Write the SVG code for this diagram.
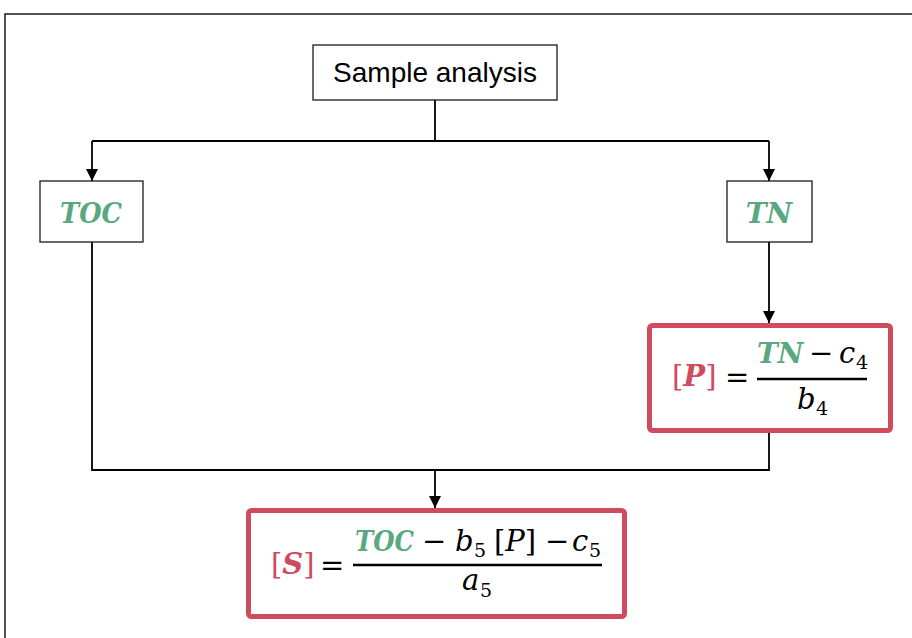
<svg xmlns="http://www.w3.org/2000/svg" width="912" height="638" viewBox="0 0 912 638">
  <style>
    .box { fill: #ffffff; stroke: #1a1a1a; stroke-width: 1.3; }
    .eqbox { fill: #ffffff; stroke: #cf4b5e; stroke-width: 5; }
    .wire { fill: none; stroke: #000000; stroke-width: 1.8; }
    .label { font-family: "Liberation Sans", Arial, sans-serif; font-size: 28px; fill: #000000; }
    .m { font-family: "DejaVu Serif", "Liberation Serif", serif; font-size: 29px; fill: #000000; }
    .mi { font-style: italic; }
    .sub { font-family: "DejaVu Serif", "Liberation Serif", serif; font-size: 19px; fill: #000000; }
    .var { font-family: "DejaVu Serif", "Liberation Serif", serif; font-size: 28px; font-style: italic; font-weight: bold; fill: #5aa87f; }
    .red { fill: #cf4b5e; }
    .bar { stroke: #000000; stroke-width: 2.5; }
  </style>
  <defs>
    <marker id="arrow" viewBox="0 0 12 12" refX="12" refY="6" markerWidth="12" markerHeight="12" markerUnits="userSpaceOnUse" orient="auto">
      <path d="M0,0 L12,6 L0,12 Z" fill="#000000"/>
    </marker>
  </defs>

  <!-- outer frame -->
  <rect x="5" y="14" width="920" height="640" fill="none" stroke="#1a1a1a" stroke-width="1.5"/>

  <!-- connectors -->
  <g id="connectors">
    <path class="wire" d="M435,100 V141"/>
    <path class="wire" d="M92,141 H769"/>
    <path class="wire" d="M92,141 V181" marker-end="url(#arrow)"/>
    <path class="wire" d="M769,141 V181" marker-end="url(#arrow)"/>
    <path class="wire" d="M769,242 V323" marker-end="url(#arrow)"/>
    <path class="wire" d="M92,242 V470 H769 V433"/>
    <path class="wire" d="M435,470 V508" marker-end="url(#arrow)"/>
  </g>

  <g id="sample">
    <rect class="box" x="313" y="45" width="244" height="55"/>
    <text class="label" x="435" y="82" text-anchor="middle">Sample analysis</text>
  </g>

  <g id="toc">
    <rect class="box" x="40" y="181" width="103" height="61"/>
    <text class="var" x="60" y="223" textLength="62" lengthAdjust="spacingAndGlyphs">TOC</text>
  </g>

  <g id="tn">
    <rect class="box" x="727" y="181" width="85" height="61"/>
    <text class="var" x="769" y="223" text-anchor="middle">TN</text>
  </g>

  <g id="p-eq">
    <rect class="eqbox" x="649.5" y="325.5" width="241" height="105" rx="3"/>
    <text class="m red" x="672" y="386" font-size="28">[<tspan font-style="italic" font-weight="bold">P</tspan>]</text>
    <text class="m" x="725" y="387">=</text>
    <line class="bar" x1="757" y1="379" x2="867" y2="379"/>
    <text class="var" x="757" y="363">TN</text>
    <text class="m" x="809" y="363">−</text>
    <text class="m mi" x="839" y="363">c</text>
    <text class="sub" x="856" y="369">4</text>
    <text class="m mi" x="797" y="409">b</text>
    <text class="sub" x="816" y="415">4</text>
  </g>

  <g id="s-eq">
    <rect class="eqbox" x="248.5" y="510.5" width="376" height="106" rx="3"/>
    <text class="m red" x="271" y="574" font-size="28">[<tspan font-style="italic" font-weight="bold">S</tspan>]</text>
    <text class="m" x="320" y="575">=</text>
    <line class="bar" x1="353" y1="565" x2="602" y2="565"/>
    <text class="var" x="355" y="551" textLength="59" lengthAdjust="spacingAndGlyphs">TOC</text>
    <text class="m" x="422" y="551">−</text>
    <text class="m mi" x="455" y="551">b</text>
    <text class="sub" x="474" y="557">5</text>
    <text class="m" x="494" y="551">[<tspan font-style="italic">P</tspan>]</text>
    <text class="m" x="545" y="551">−</text>
    <text class="m mi" x="572" y="551">c</text>
    <text class="sub" x="589" y="557">5</text>
    <text class="m mi" x="462" y="590">a</text>
    <text class="sub" x="480" y="597">5</text>
  </g>
</svg>
